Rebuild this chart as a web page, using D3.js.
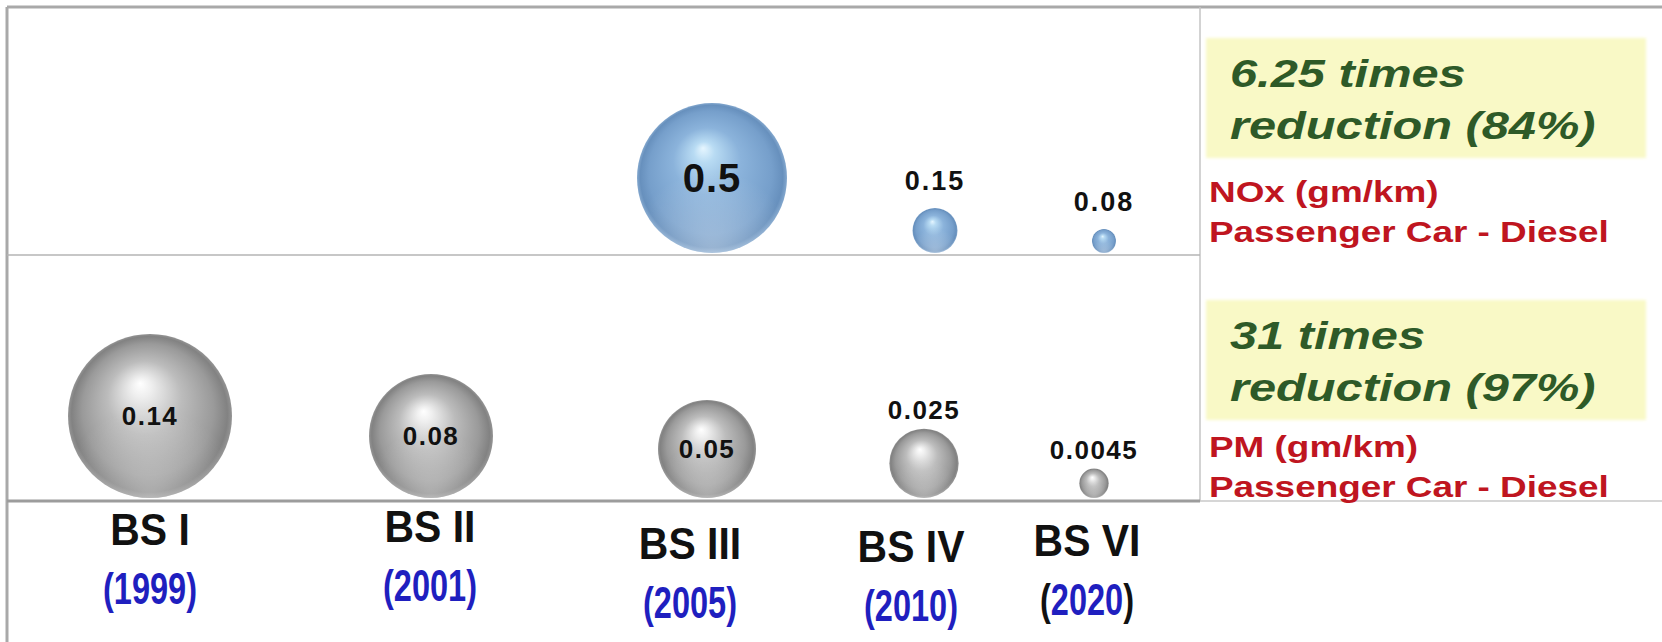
<!DOCTYPE html>
<html>
<head>
<meta charset="utf-8">
<script src="https://cdn.jsdelivr.net/npm/d3@7"></script>
<style>
  html, body { margin: 0; padding: 0; background: #ffffff; }
  svg { display: block; }
  text { font-family: "Liberation Sans", Arial, "Helvetica Neue", sans-serif; }
</style>
</head>
<body>
<svg id="chart" width="1662" height="642"></svg>
<script>
// ---- data -------------------------------------------------------------
const stages    = ["BS I", "BS II", "BS III", "BS IV", "BS VI"];
const years     = ["1999", "2001", "2005", "2010", "2020"];
const noxValues = [null, null, 0.5, 0.15, 0.08];      // NOx, gm/km
const pmValues  = [0.14, 0.08, 0.05, 0.025, 0.0045];  // PM, gm/km
const noxSummary = ["6.25 times", "reduction (84%)"];
const noxCaption = ["NOx (gm/km)", "Passenger Car - Diesel"];
const pmSummary  = ["31 times", "reduction (97%)"];
const pmCaption  = ["PM (gm/km)", "Passenger Car - Diesel"];

// ---- layout -----------------------------------------------------------
const frame = { left: 7, top: 7, right: 1200, mid: 255, bottom: 501, width: 1662, height: 642 };
const svg = d3.select("#chart");
const defs = svg.append("defs");

// column centres of the emission stages
const xPm    = d3.scaleOrdinal(stages, [150, 431, 707, 924, 1094]);
const xNox   = d3.scaleOrdinal(stages, [150, 431, 712, 935, 1104]);
const xLabel = d3.scaleOrdinal(stages, [150, 430, 690, 911, 1087]);
const labelBaseline = d3.scaleOrdinal(stages, [545, 542, 559, 562, 556]);

// bubble size: NOx radius grows with the value, PM area grows with the value
const rNox = d3.scaleLinear().domain([0, 0.5]).range([0, 75]);
const rPm  = d3.scaleSqrt().domain([0, 0.14]).range([0, 82]);

// ---- sphere shading ---------------------------------------------------
function sphereGradient(id, stops) {
  const g = defs.append("radialGradient")
    .attr("id", id)
    .attr("cx", 0.5).attr("cy", 0.5).attr("r", 0.5)
    .attr("fx", 0.44).attr("fy", 0.3);
  stops.forEach(([o, c]) => g.append("stop").attr("offset", o).attr("stop-color", c));
}
sphereGradient("blueSphere", [
  [0, "#e6f6ff"], [0.14, "#b8dbf3"], [0.45, "#8bb3db"], [0.82, "#769fcb"], [0.95, "#6790bd"], [1, "#84a8ce"]
]);
sphereGradient("greySphere", [
  [0, "#ffffff"], [0.12, "#efefef"], [0.45, "#bcbcbc"], [0.8, "#9a9a9a"], [0.95, "#828282"], [1, "#949494"]
]);
const rim = defs.append("radialGradient")
  .attr("id", "rimLight").attr("cx", 0.5).attr("cy", 1.0).attr("r", 0.55);
rim.append("stop").attr("offset", 0).attr("stop-color", "#ffffff").attr("stop-opacity", 0.35);
rim.append("stop").attr("offset", 1).attr("stop-color", "#ffffff").attr("stop-opacity", 0);

const soft = defs.append("filter").attr("id", "soft").attr("x", -0.05).attr("y", -0.1).attr("width", 1.1).attr("height", 1.2);
soft.append("feGaussianBlur").attr("stdDeviation", 1.5);

// ---- frame ------------------------------------------------------------
const lines = svg.append("g").attr("fill", "none");
lines.append("line")   // top edge
  .attr("x1", frame.left).attr("x2", frame.width).attr("y1", frame.top).attr("y2", frame.top)
  .attr("stroke", "#a9a9a9").attr("stroke-width", 3);
lines.append("line")   // left edge
  .attr("x1", frame.left).attr("x2", frame.left).attr("y1", frame.top).attr("y2", frame.height)
  .attr("stroke", "#a9a9a9").attr("stroke-width", 3);
lines.append("line")   // right edge of the bubble area
  .attr("x1", frame.right).attr("x2", frame.right).attr("y1", frame.top).attr("y2", frame.bottom)
  .attr("stroke", "#c4c4c4").attr("stroke-width", 1.5);
lines.append("line")   // NOx / PM divider
  .attr("x1", frame.left).attr("x2", frame.right).attr("y1", frame.mid).attr("y2", frame.mid)
  .attr("stroke", "#b4b4b4").attr("stroke-width", 1.5);
lines.append("line")   // base line of the bubble area
  .attr("x1", frame.left).attr("x2", frame.right).attr("y1", frame.bottom).attr("y2", frame.bottom)
  .attr("stroke", "#9c9c9c").attr("stroke-width", 3);
lines.append("line")   // base line continued under the captions
  .attr("x1", frame.right).attr("x2", frame.width).attr("y1", frame.bottom).attr("y2", frame.bottom)
  .attr("stroke", "#c8c8c8").attr("stroke-width", 1.5);

// ---- bubbles ----------------------------------------------------------
function bubbleRow(values, x, rScale, floor, fill, opts) {
  const rows = stages.map((s, i) => ({ stage: s, value: values[i] })).filter(d => d.value != null);
  const g = svg.append("g");
  const item = g.selectAll("g").data(rows).join("g")
    .attr("transform", d => `translate(${x(d.stage)},${floor - rScale(d.value) - 2})`);
  item.append("circle").attr("r", d => rScale(d.value)).attr("fill", `url(#${fill})`);
  item.append("circle").attr("r", d => rScale(d.value)).attr("fill", "url(#rimLight)");
  const inside = d => rScale(d.value) > 40;
  item.append("text")
    .attr("text-anchor", "middle")
    .attr("font-weight", "bold")
    .attr("fill", "#111111")
    .attr("letter-spacing", d => inside(d) ? opts.insideSpacing : opts.aboveSpacing)
    .attr("font-size", d => inside(d) ? opts.insideFont : opts.aboveFont)
    .attr("y", d => inside(d) ? "0.35em" : -rScale(d.value) - opts.gap)
    .text(d => String(d.value));
}
bubbleRow(noxValues, xNox, rNox, frame.mid, "blueSphere",
  { insideFont: 40, insideSpacing: 1, aboveFont: 27, aboveSpacing: 2, gap: 18 });
bubbleRow(pmValues, xPm, rPm, frame.bottom - 1, "greySphere",
  { insideFont: 26, insideSpacing: 1.5, aboveFont: 26, aboveSpacing: 1.5, gap: 10 });

// ---- stage and year captions -----------------------------------------
const cap = svg.append("g").attr("font-weight", "bold").attr("text-anchor", "middle");
cap.selectAll("text.stage").data(stages).join("text")
  .attr("class", "stage")
  .attr("transform", d => `translate(${xLabel(d)},${labelBaseline(d)}) scale(0.93,1)`)
  .attr("font-size", 44).attr("fill", "#111111")
  .text(d => d);

const darkParens = new Set(["2020"]);
const yr = cap.selectAll("text.year").data(stages.map((s, i) => ({ stage: s, year: years[i] }))).join("text")
  .attr("class", "year")
  .attr("transform", d => `translate(${xLabel(d.stage)},${labelBaseline(d.stage) + 59}) scale(0.74,1)`)
  .attr("font-size", 44).attr("fill", "#1f1fbf");
yr.append("tspan").attr("fill", d => darkParens.has(d.year) ? "#111111" : "#1f1fbf").text("(");
yr.append("tspan").text(d => d.year);
yr.append("tspan").attr("fill", d => darkParens.has(d.year) ? "#111111" : "#1f1fbf").text(")");

// ---- reduction notes --------------------------------------------------
function note(boxTop, summary, caption, captionTop) {
  svg.append("rect")
    .attr("x", 1206).attr("y", boxTop).attr("width", 440).attr("height", 120)
    .attr("fill", "#f9f9c6").attr("filter", "url(#soft)");
  const green = svg.append("g").attr("transform", `translate(1230,0)`);
  green.selectAll("text").data(summary).join("text")
    .attr("transform", (d, i) => `translate(0,${boxTop + 49 + i * 52}) scale(1.25,1)`)
    .attr("font-size", 39).attr("font-weight", "bold").attr("font-style", "italic")
    .attr("fill", "#2e5a28")
    .text(d => d);
  const red = svg.append("g").attr("transform", `translate(1209,0)`);
  red.selectAll("text").data(caption).join("text")
    .attr("transform", (d, i) => `translate(0,${captionTop + i * 40}) scale(1.23,1)`)
    .attr("font-size", 30).attr("font-weight", "bold")
    .attr("fill", "#bf1520")
    .text(d => d);
}
note(38, noxSummary, noxCaption, 202);
note(300, pmSummary, pmCaption, 457);
</script>
</body>
</html>
